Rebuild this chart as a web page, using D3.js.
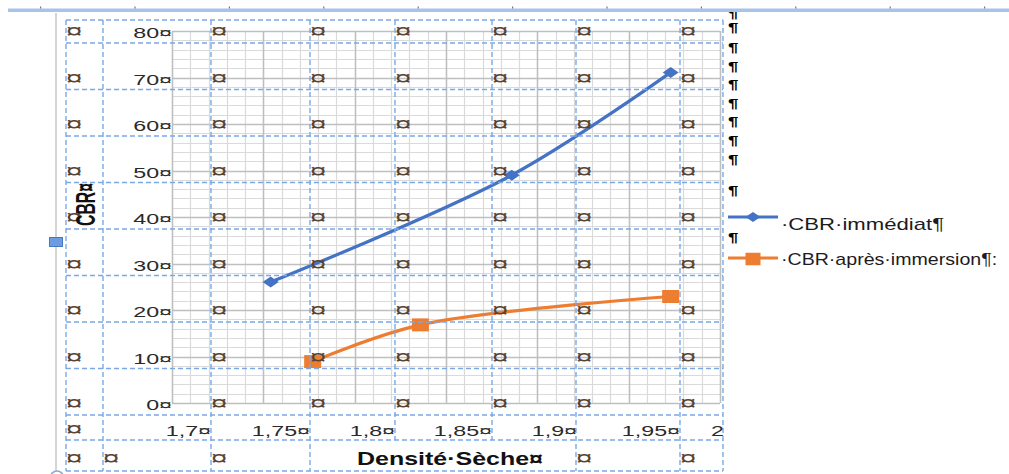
<!DOCTYPE html>
<html>
<head>
<meta charset="utf-8">
<script src="https://cdn.jsdelivr.net/npm/d3@7"></script>
<style>
  html, body { margin: 0; padding: 0; background: #fff; overflow: hidden; }
</style>
</head>
<body>
<svg id="c" width="1009" height="474"></svg>
<script>
// CBR against dry density, two test conditions
const densityImmediate = [1.754, 1.886, 1.973];
const cbrImmediate     = [26, 49, 71.1];
const densityImmersion = [1.777, 1.836, 1.973];
const cbrImmersion     = [8.9, 16.8, 22.9];

const yTickValues  = [80, 70, 60, 50, 40, 30, 20, 10, 0];
const xTickLabels  = ["1,7", "1,75", "1,8", "1,85", "1,9", "1,95", "2"];
const seriesNames  = ["CBR·immédiat", "CBR·après·immersion"];
const xTitle = "Densité·Sèche";
const yTitle = "CBR";

// ---- layout -------------------------------------------------------------
const SX = 1.5;                       // horizontal stretch of the page view
const FONT = "'Liberation Sans', Arial, sans-serif";
const BLUE = "#4472C4", ORANGE = "#ED7D31";
const CELL = "#5a4330";               // table end-of-cell mark colour
const DASH = "#7ba7e6";

const svg = d3.select("#c");

const x = d3.scaleLinear().domain([1.7, 2.0]).range([172, 720]);
const y = d3.scaleLinear().domain([0, 80]).range([403, 31]);

// Text drawn with a horizontal stretch; when a width is given the stretch
// is chosen so the string spans exactly that many pixels.
function txt(g, x0, y0, s, o = {}) {
  const t = g.append("text")
    .attr("transform", `translate(${x0},${y0}) scale(${SX},1)`)
    .attr("font-family", FONT)
    .attr("font-size", o.size || 15)
    .attr("font-weight", o.weight || "normal")
    .attr("fill", o.fill || "#2a2a2a")
    .attr("text-anchor", o.anchor || "start")
    .text(s);
  if (o.width) {
    const natural = t.node().getComputedTextLength();
    t.attr("transform", `translate(${x0},${y0}) scale(${o.width / natural},1)`);
  }
  return t;
}
function cellMark(g, x0, y0) {
  return txt(g, x0, y0, "¤", { anchor: "middle", size: 20, fill: CELL });
}

// ---- chart grid ---------------------------------------------------------
const grid = svg.append("g");
grid.selectAll("line.vmin").data(x.ticks(30)).join("line")
  .attr("x1", d => Math.round(x(d)) + 0.5).attr("x2", d => Math.round(x(d)) + 0.5)
  .attr("y1", y(80)).attr("y2", y(0))
  .attr("stroke", "#dadada").attr("stroke-width", 1.2);
grid.selectAll("line.hmin").data(y.ticks(40)).join("line")
  .attr("y1", d => Math.round(y(d)) + 0.5).attr("y2", d => Math.round(y(d)) + 0.5)
  .attr("x1", x(1.7)).attr("x2", x(2.0))
  .attr("stroke", "#dadada").attr("stroke-width", 1.2);
grid.selectAll("line.vmaj").data(x.ticks(6)).join("line")
  .attr("x1", d => Math.round(x(d)) + 0.5).attr("x2", d => Math.round(x(d)) + 0.5)
  .attr("y1", y(80)).attr("y2", y(0))
  .attr("stroke", "#bfbfbf").attr("stroke-width", 1.5);
grid.selectAll("line.hmaj").data(y.ticks(8)).join("line")
  .attr("y1", d => Math.round(y(d)) + 0.5).attr("y2", d => Math.round(y(d)) + 0.5)
  .attr("x1", x(1.7)).attr("x2", x(2.0))
  .attr("stroke", "#bfbfbf").attr("stroke-width", 1.5);

// ---- series -------------------------------------------------------------
const line = d3.line().x(d => x(d[0])).y(d => y(d[1])).curve(d3.curveCatmullRom.alpha(0.5));
const immediate = d3.zip(densityImmediate, cbrImmediate);
const immersion = d3.zip(densityImmersion, cbrImmersion);

const plot = svg.append("g");
plot.append("path").datum(immediate).attr("d", line)
  .attr("fill", "none").attr("stroke", BLUE).attr("stroke-width", 3.2);
plot.append("path").datum(immersion).attr("d", line)
  .attr("fill", "none").attr("stroke", ORANGE).attr("stroke-width", 3.2);

const unitSquare = d3.symbol(d3.symbolSquare, 1)();
const diamondAt = (w, h) => d => `translate(${x(d[0])},${y(d[1])}) scale(${w / Math.SQRT2},${h / Math.SQRT2}) rotate(45)`;
const squareAt  = (w, h) => d => `translate(${x(d[0])},${y(d[1])}) scale(${w},${h})`;

plot.selectAll("path.dia").data(immediate).join("path")
  .attr("d", unitSquare).attr("transform", diamondAt(16, 11)).attr("fill", BLUE);
plot.selectAll("path.sq").data(immersion).join("path")
  .attr("d", unitSquare).attr("transform", squareAt(17, 13)).attr("fill", ORANGE);

// ---- document table (dashed cell borders) -------------------------------
const table = svg.append("g");
const rowLines = [20, 43, 89.5, 136, 182.5, 229, 275.5, 322, 368.5, 415, 440, 471];
const fullCols = [66, 103, 211, 310, 576, 680, 723];
const innerCols = [395, 492];
table.selectAll("line.row").data(rowLines).join("line")
  .attr("x1", 66).attr("x2", 723).attr("y1", d => d).attr("y2", d => d)
  .attr("stroke", DASH).attr("stroke-width", 1.4).attr("stroke-dasharray", "5,3");
table.selectAll("line.col").data(fullCols).join("line")
  .attr("x1", d => d).attr("x2", d => d).attr("y1", 20).attr("y2", 471)
  .attr("stroke", DASH).attr("stroke-width", 1.4).attr("stroke-dasharray", "5,3");
table.selectAll("line.icol").data(innerCols).join("line")
  .attr("x1", d => d).attr("x2", d => d).attr("y1", 20).attr("y2", 440)
  .attr("stroke", DASH).attr("stroke-width", 1.4).attr("stroke-dasharray", "5,3");

// y tick labels and the end-of-cell marks of each row
const cellCols = [66, 211, 310, 395, 492, 576, 680];
yTickValues.forEach(v => {
  const base = y(v) + 7;
  txt(table, 172, base, v + "¤", { anchor: "end", size: 15.5 });
  cellCols.forEach(c => cellMark(table, c + 8, base));
});

// x tick labels row
const xLabelEdges = [211, 310, 395, 492, 577, 680, 724];
cellMark(table, 74, 436);
xTickLabels.forEach((s, i) => {
  txt(table, xLabelEdges[i], 436, s + (i < xTickLabels.length - 1 ? "¤" : ""), { anchor: "end", size: 15.5 });
});

// axis title row
[66, 103, 211, 576, 680].forEach(c => cellMark(table, c + 8, 465));
txt(table, 357, 465, xTitle + "¤", { weight: "bold", size: 18, fill: "#111", width: 186 });

// vertical axis title
const yt = table.append("text")
  .attr("font-family", FONT).attr("font-size", 19).attr("font-weight", "bold")
  .attr("fill", "#111")
  .text(yTitle + "¤");
const ytLen = yt.node().getComputedTextLength();
yt.attr("transform", `translate(95,226) scale(${SX},${43 / ytLen}) rotate(-90)`);

// ---- legend -------------------------------------------------------------
const legend = svg.append("g");
const legendRows = [
  { name: seriesNames[0], color: BLUE, ly: 217, base: 230, width: 163, end: "¶", diamond: true },
  { name: seriesNames[1], color: ORANGE, ly: 258, base: 265, width: 216, end: "¶:", diamond: false }
];
legendRows.forEach(r => {
  legend.append("line").attr("x1", 728).attr("x2", 778).attr("y1", r.ly).attr("y2", r.ly)
    .attr("stroke", r.color).attr("stroke-width", 3);
  const m = legend.append("path").attr("d", unitSquare).attr("fill", r.color);
  if (r.diamond) m.attr("transform", `translate(753,${r.ly}) scale(${15 / Math.SQRT2},${10 / Math.SQRT2}) rotate(45)`);
  else m.attr("transform", `translate(753,${r.ly + 1}) scale(15,12.5)`);
  txt(legend, 781, r.base, "·" + r.name + r.end, { size: 16, fill: "#1e1a22", width: r.width });
});

// paragraph marks right of the table
const pilcrowTops = [9, 23, 43, 62, 80, 99, 117, 136, 155, 186, 233];
pilcrowTops.forEach(t => txt(svg, 728, t + 9, "¶", { size: 12.5, weight: "bold", fill: "#000" }));

// ---- page furniture -----------------------------------------------------
svg.append("rect").attr("x", 8).attr("y", 8.5).attr("width", 1001).attr("height", 3.5).attr("fill", "#a6c3ea");
d3.range(11).forEach(i => svg.append("rect").attr("x", 40 + i * 94.4).attr("y", 6.5)
  .attr("width", 1.2).attr("height", 2).attr("fill", "#777"));
svg.append("rect").attr("x", 55).attr("y", 13).attr("width", 2).attr("height", 461).attr("fill", "#d4d4d4");
svg.append("rect").attr("x", 49.5).attr("y", 237.5).attr("width", 13).attr("height", 9)
  .attr("fill", "#6d9be0").attr("stroke", "#4a79c4");
svg.append("circle").attr("cx", 57).attr("cy", 477.5).attr("r", 6.5)
  .attr("fill", "#fff").attr("stroke", "#8aa9d6").attr("stroke-width", 1.5);
</script>
</body>
</html>
